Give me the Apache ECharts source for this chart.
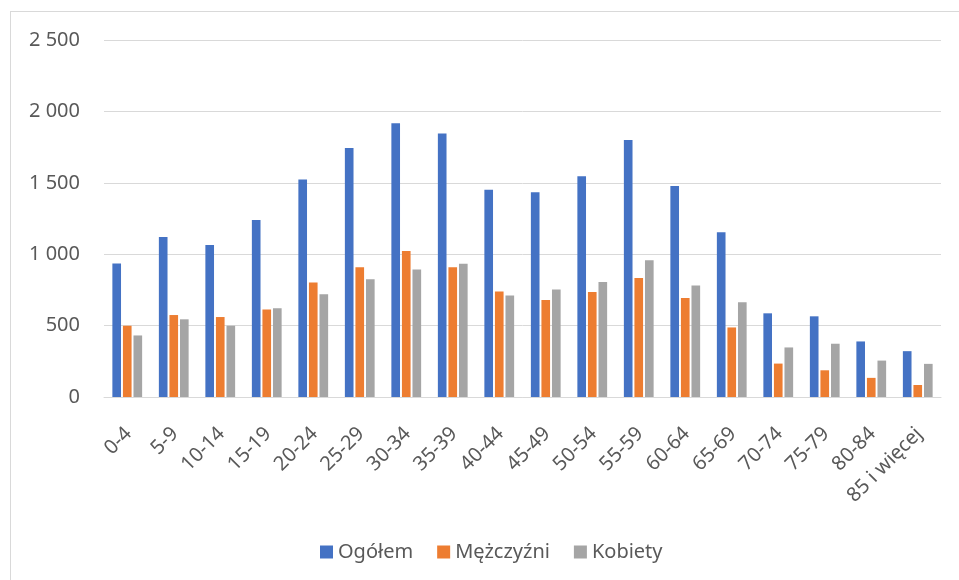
<!DOCTYPE html>
<html>
<head>
<meta charset="utf-8">
<script src="https://cdn.jsdelivr.net/npm/echarts@6/dist/echarts.min.js"></script>
<style>
  body { margin: 0; background: #fff; }
  #wrap { position: relative; width: 959px; height: 580px; }
  #frame { position: absolute; left: 10px; top: 11px; right: 0; bottom: 0;
           border-top: 1px solid #d9d9d9; border-left: 1px solid #d9d9d9; }
  #main { position: absolute; left: 0; top: 0; width: 959px; height: 580px; }
</style>
</head>
<body>
<div id="wrap">
  <div id="frame"></div>
  <div id="main"></div>
</div>
<script>
// grupy wieku
var categories = ['0-4', '5-9', '10-14', '15-19', '20-24', '25-29', '30-34', '35-39', '40-44',
  '45-49', '50-54', '55-59', '60-64', '65-69', '70-74', '75-79', '80-84', '85 i więcej'];
var ogolem = [935, 1120, 1064, 1240, 1523, 1744, 1917, 1845, 1451, 1434, 1545, 1800, 1477, 1153, 586, 565, 389, 321];
var mezczyzni = [499, 574, 560, 612, 802, 909, 1022, 909, 738, 680, 736, 834, 694, 487, 234, 187, 134, 84];
var kobiety = [431, 544, 499, 621, 719, 825, 893, 933, 710, 752, 806, 958, 780, 663, 347, 373, 255, 232];
var seriesNames = ['Ogółem', 'Mężczyźni', 'Kobiety'];

(function() {
  var myChart = echarts.init(document.getElementById('main'));
  var font = 'Noto Sans';
  var option = {
    animation: false,
    color: ['#4472C4', '#ED7D31', '#A5A5A5'],
    grid: {
      left: 104,
      right: 18,
      top: 40,
      bottom: 183
    },
    legend: {
      data: seriesNames,
      left: 315,
      top: 537,
      icon: 'rect',
      itemWidth: 13,
      itemHeight: 13,
      itemGap: 24,
      textStyle: { color: '#595959', fontSize: 20, fontFamily: font }
    },
    xAxis: {
      type: 'category',
      data: categories,
      axisTick: { show: false },
      axisLine: { lineStyle: { color: '#d9d9d9', width: 1 } },
      axisLabel: {
        rotate: 45,
        margin: 21,
        interval: 0,
        verticalAlign: 'top',
        padding: [0, 8, 0, 0],
        color: '#595959',
        fontSize: 20,
        fontFamily: font
      }
    },
    yAxis: {
      type: 'value',
      min: 0,
      max: 2500,
      interval: 500,
      axisLine: { show: false },
      axisTick: { show: false },
      axisLabel: {
        margin: 24,
        color: '#595959',
        fontSize: 20,
        fontFamily: font,
        formatter: function(v) {
          return String(v).replace(/\B(?=(\d{3})+(?!\d))/g, ' ');
        }
      },
      splitLine: { lineStyle: { color: '#d9d9d9', width: 1 } }
    },
    series: [
      { name: seriesNames[0], type: 'bar', data: ogolem, barGap: '22%', barCategoryGap: '36%' },
      { name: seriesNames[1], type: 'bar', data: mezczyzni, barGap: '22%', barCategoryGap: '36%' },
      { name: seriesNames[2], type: 'bar', data: kobiety, barGap: '22%', barCategoryGap: '36%' }
    ]
  };
  myChart.setOption(option);
})();
</script>
</body>
</html>
